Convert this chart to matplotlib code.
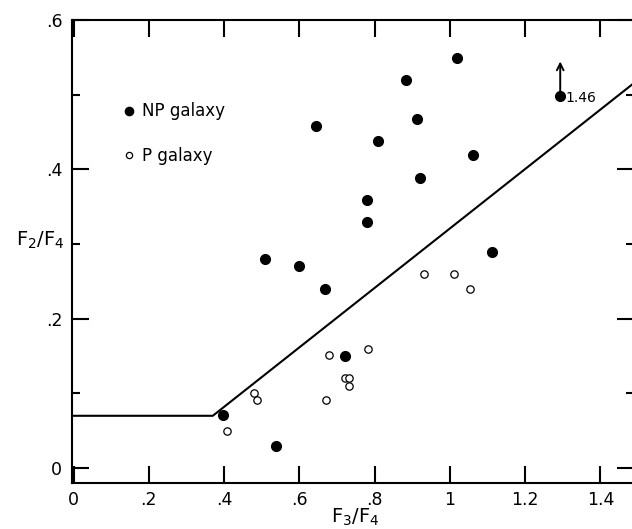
import numpy as np
import matplotlib
matplotlib.use("Agg")
import matplotlib.pyplot as plt

# NP galaxies (filled dots), F3/F4 vs F2/F4
np_x = [1.020, 0.882, 1.293, 0.912, 0.643, 0.810, 1.062, 0.921, 0.781, 0.780,
        0.509, 0.598, 1.113, 0.669, 0.720, 0.397, 0.538]
np_y = [0.549, 0.519, 0.498, 0.468, 0.458, 0.4385, 0.419, 0.389, 0.359, 0.330,
        0.280, 0.270, 0.289, 0.240, 0.150, 0.0705, 0.029]

# P galaxies (open circles)
p_x = [0.479, 0.488, 0.407, 0.932, 1.012, 1.052, 0.783, 0.680, 0.720, 0.7325,
       0.7325, 0.670]
p_y = [0.1007, 0.091, 0.050, 0.260, 0.260, 0.240, 0.160, 0.151, 0.121, 0.121,
       0.1105, 0.0905]

# dividing line
line_x = [0.0, 0.37, 1.50]
line_y = [0.070, 0.070, 0.520]

# off-scale point (true value given as text)
arrow_x = 1.293
arrow_y = 0.498
arrow_label = "1.46"

x_ticks = [0, 0.2, 0.4, 0.6, 0.8, 1.0, 1.2, 1.4]
x_ticklabels = ["0", ".2", ".4", ".6", ".8", "1", "1.2", "1.4"]
y_ticks = [0, 0.2, 0.4, 0.6]
y_ticklabels = ["0", ".2", ".4", ".6"]
y_minor = [0.1, 0.3, 0.5]

W, H = 632, 529
fig = plt.figure(figsize=(W / 100, H / 100), dpi=100)
ax = fig.add_axes([72 / W, 46 / H, 562 / W, 463 / H])

ax.plot(line_x, line_y, color="black", lw=1.5, solid_joinstyle="round")
ax.plot(np_x, np_y, "o", color="black", ms=7.0, label="NP galaxy", zorder=3)
ax.plot(p_x, p_y, "o", mfc="white", mec="black", mew=0.9, ms=5.3,
        label="P galaxy", zorder=3)

ax.annotate("", xy=(arrow_x, arrow_y), xytext=(0, 25), textcoords="offset points",
            arrowprops=dict(arrowstyle="<-", lw=1.4, color="black",
                            shrinkA=0, shrinkB=2, mutation_scale=12))
ax.annotate(arrow_label, xy=(arrow_x, arrow_y), xytext=(4, -1),
            textcoords="offset points", ha="left", va="center", fontsize=10)

ax.set_xlim(-0.004, 1.489)
ax.set_ylim(-0.02, 0.6)

ax.set_xticks(x_ticks)
ax.set_xticklabels(x_ticklabels)
ax.set_yticks(y_ticks)
ax.set_yticklabels(y_ticklabels)
ax.set_yticks(y_minor, minor=True)

ax.tick_params(which="both", direction="in", top=True, right=True, width=1.5,
               labelsize=12.5)
ax.tick_params(which="major", length=12)
ax.tick_params(which="minor", length=6)
ax.tick_params(axis="x", pad=6)
ax.tick_params(axis="y", pad=7)

for s in ax.spines.values():
    s.set_linewidth(1.5)

ax.set_ylabel(r"F$_2$/F$_4$", rotation=0, fontsize=14, ha="center", va="center")
ax.yaxis.set_label_coords(-0.057, 0.525)
ax.set_xlabel(r"F$_3$/F$_4$", fontsize=14, va="top")
ax.xaxis.set_label_coords(0.504, -0.052)

ax.legend(loc="upper left", bbox_to_anchor=(0.092, 0.822), frameon=False,
          fontsize=12, markerscale=0.85, handlelength=0.6, handletextpad=0.5,
          labelspacing=1.6, borderpad=0, borderaxespad=0)

fig.savefig("out.png", dpi=100)
